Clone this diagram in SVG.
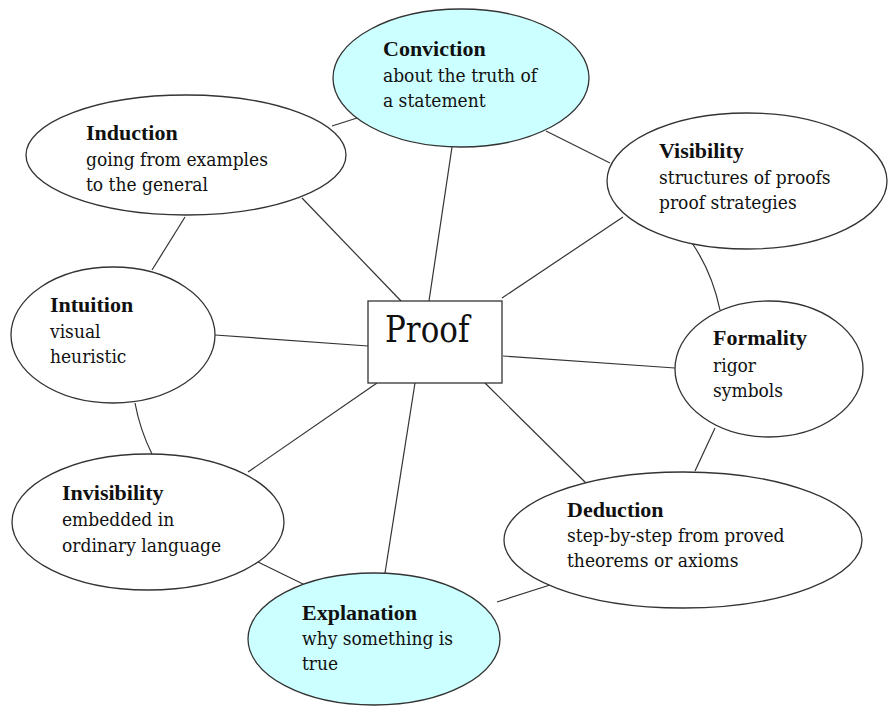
<svg xmlns="http://www.w3.org/2000/svg" width="888" height="708" viewBox="0 0 888 708">
<style>
.bg{fill:#ffffff}
.e{fill:#ffffff;stroke:#333333;stroke-width:1.3}
.c{fill:#ccffff;stroke:#333333;stroke-width:1.3}
.l{stroke:#333333;stroke-width:1.2;fill:none}
text{font-family:"DejaVu Serif Condensed","DejaVu Serif",serif;font-stretch:condensed;font-size:19px;fill:#111111}
.t{font-family:"Liberation Serif","Times New Roman",serif;font-stretch:normal;font-weight:bold;font-size:22px}
.p{font-size:37px}
</style>
<rect class="bg" x="0" y="0" width="888" height="708"/>
<g id="connectors">
<line class="l" x1="452" y1="147" x2="429" y2="301"/>
<line class="l" x1="302" y1="198" x2="401" y2="301"/>
<line class="l" x1="332" y1="126" x2="357" y2="118"/>
<line class="l" x1="546" y1="131" x2="610" y2="163"/>
<line class="l" x1="623" y1="217" x2="502" y2="298"/>
<path class="l" d="M692,243 Q712,272 720,310"/>
<line class="l" x1="503" y1="356" x2="675" y2="368"/>
<line class="l" x1="715" y1="428" x2="695" y2="471"/>
<line class="l" x1="485" y1="383" x2="590" y2="487"/>
<line class="l" x1="550" y1="585" x2="497" y2="602"/>
<line class="l" x1="415" y1="383" x2="385" y2="573"/>
<line class="l" x1="258" y1="562" x2="305" y2="585"/>
<line class="l" x1="248" y1="472" x2="377" y2="383"/>
<path class="l" d="M135,403 Q140,430 152,454"/>
<line class="l" x1="215" y1="335" x2="368" y2="346"/>
<line class="l" x1="185" y1="217" x2="152" y2="270"/>
</g>
<g id="conviction">
<ellipse class="c" cx="461" cy="78" rx="128" ry="69"/>
<text x="383" y="56" class="t">Conviction</text>
<text x="383" y="82">about the truth of</text>
<text x="383" y="107">a statement</text>
</g>
<g id="induction">
<ellipse class="e" cx="186" cy="155" rx="160" ry="60"/>
<text x="86" y="140" class="t">Induction</text>
<text x="86" y="166">going from examples</text>
<text x="86" y="191">to the general</text>
</g>
<g id="visibility">
<ellipse class="e" cx="747" cy="181" rx="140" ry="68"/>
<text x="659" y="158" class="t">Visibility</text>
<text x="659" y="184">structures of proofs</text>
<text x="659" y="209">proof strategies</text>
</g>
<g id="intuition">
<ellipse class="e" cx="113" cy="335" rx="102" ry="68"/>
<text x="50" y="312" class="t">Intuition</text>
<text x="50" y="338">visual</text>
<text x="50" y="363">heuristic</text>
</g>
<g id="proof">
<rect x="368" y="301" width="134" height="82" fill="#ffffff" stroke="#333333" stroke-width="1.3"/>
<text x="0" y="0" class="p" transform="translate(385,342) scale(0.93,1)">Proof</text>
</g>
<g id="formality">
<ellipse class="e" cx="769" cy="369" rx="94" ry="68"/>
<text x="713" y="345" class="t">Formality</text>
<text x="713" y="372">rigor</text>
<text x="713" y="397">symbols</text>
</g>
<g id="invisibility">
<ellipse class="e" cx="148" cy="522" rx="136" ry="68"/>
<text x="62" y="500" class="t">Invisibility</text>
<text x="62" y="526">embedded in</text>
<text x="62" y="552">ordinary language</text>
</g>
<g id="deduction">
<ellipse class="e" cx="683" cy="540" rx="179" ry="68"/>
<text x="567" y="517" class="t">Deduction</text>
<text x="567" y="542">step-by-step from proved</text>
<text x="567" y="567">theorems or axioms</text>
</g>
<g id="explanation">
<ellipse class="c" cx="374" cy="639" rx="126" ry="66"/>
<text x="302" y="620" class="t">Explanation</text>
<text x="302" y="645">why something is</text>
<text x="302" y="670">true</text>
</g>
</svg>
